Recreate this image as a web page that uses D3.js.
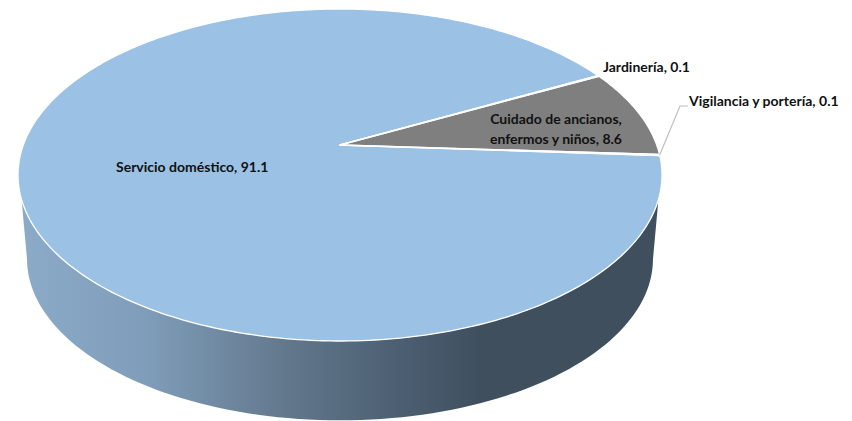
<!DOCTYPE html>
<html><head><meta charset="utf-8">
<script src="https://cdn.jsdelivr.net/npm/d3@7"></script>
<style>html,body{margin:0;background:#fff}svg{display:block}
text{font-family:Lato,"Open Sans",sans-serif;font-weight:700;font-size:14px;fill:#111}</style>
</head><body><svg id="c" width="852" height="421"></svg>
<script>
const categories = ["Jardinería","Cuidado de ancianos, enfermos y niños","Vigilancia y portería","Servicio doméstico"];
const values = [0.1,8.6,0.1,91.1];
const colors = ["#a5a5a5","#7f7f7f","#a5a5a5","#9bc2e4"];
const labelLines = [["Jardinería, 0.1"],["Cuidado de ancianos,","enfermos y niños, 8.6"],["Vigilancia y portería, 0.1"],["Servicio doméstico, 91.1"]];

const svg = d3.select("#c");
const CX=340, AY=145, K=316.7, A=134.37, C=-0.1807;
const project=(u,v)=>{const w=1+C*v;return [CX+K*u/w,(A*v+AY)/w];};
const rim=t=>project(Math.sin(t),-Math.cos(t));
const lower=t=>{const p=rim(t);return [CX+(p[0]-CX)*0.972,175+(p[1]-175)*0.972+84];};
const line=d3.line();

// side wall
const defs=svg.append("defs");
const g=defs.append("linearGradient").attr("id","side").attr("gradientUnits","userSpaceOnUse")
  .attr("x1",18).attr("x2",662).attr("y1",0).attr("y2",0);
[[0,"#8cabc9"],[0.2,"#7f9db9"],[0.42,"#62778c"],[0.6,"#4b5e71"],[0.72,"#3f4f5e"],[1,"#3f4f5e"]]
  .forEach(s=>g.append("stop").attr("offset",s[0]).attr("stop-color",s[1]));
const lR=Math.PI*0.558, lL=Math.PI*1.442, uR=Math.PI*0.604, uL=Math.PI*1.396;
const lowerPts=d3.range(0,101).map(i=>lower(lR+(lL-lR)*i/100));
const upperPts=d3.range(0,101).map(i=>rim(uL+(uR-uL)*i/100));
svg.append("path").attr("d",line(lowerPts.concat(upperPts))+"Z").attr("fill","url(#side)");

// top face
const pie=d3.pie().sort(null).value(d=>d)
  .startAngle(62*Math.PI/180).endAngle((62+360)*Math.PI/180);
const arcs=pie(values);
const order=[3,1,0,2];
svg.append("g").selectAll("path").data(order.map(i=>({a:arcs[i],i}))).join("path")
  .attr("d",d=>{
    const n=Math.max(2,Math.ceil((d.a.endAngle-d.a.startAngle)*60));
    const pts=d3.range(n+1).map(k=>rim(d.a.startAngle+(d.a.endAngle-d.a.startAngle)*k/n));
    return line([project(0,0)].concat(pts))+"Z";
  })
  .attr("fill",d=>colors[d.i])
  .attr("stroke","#fff").attr("stroke-width",1.3).attr("stroke-linejoin","round");

// leader
const vig=arcs[2], vp=rim((vig.startAngle+vig.endAngle)/2);
svg.append("path").attr("d",line([vp,[680,106],[688,106]])).attr("fill","none").attr("stroke","#bfbfbf").attr("stroke-width",1.2);

// labels
const labelPos=[[603,72,"start"],[556,124,"middle"],[689,106,"start"],[116,172,"start"]];
labelLines.forEach((ls,i)=>{
  const p=labelPos[i];
  ls.forEach((s,j)=>svg.append("text").attr("x",p[0]).attr("y",p[1]+j*20).attr("text-anchor",p[2]).text(s));
});
</script></body></html>
